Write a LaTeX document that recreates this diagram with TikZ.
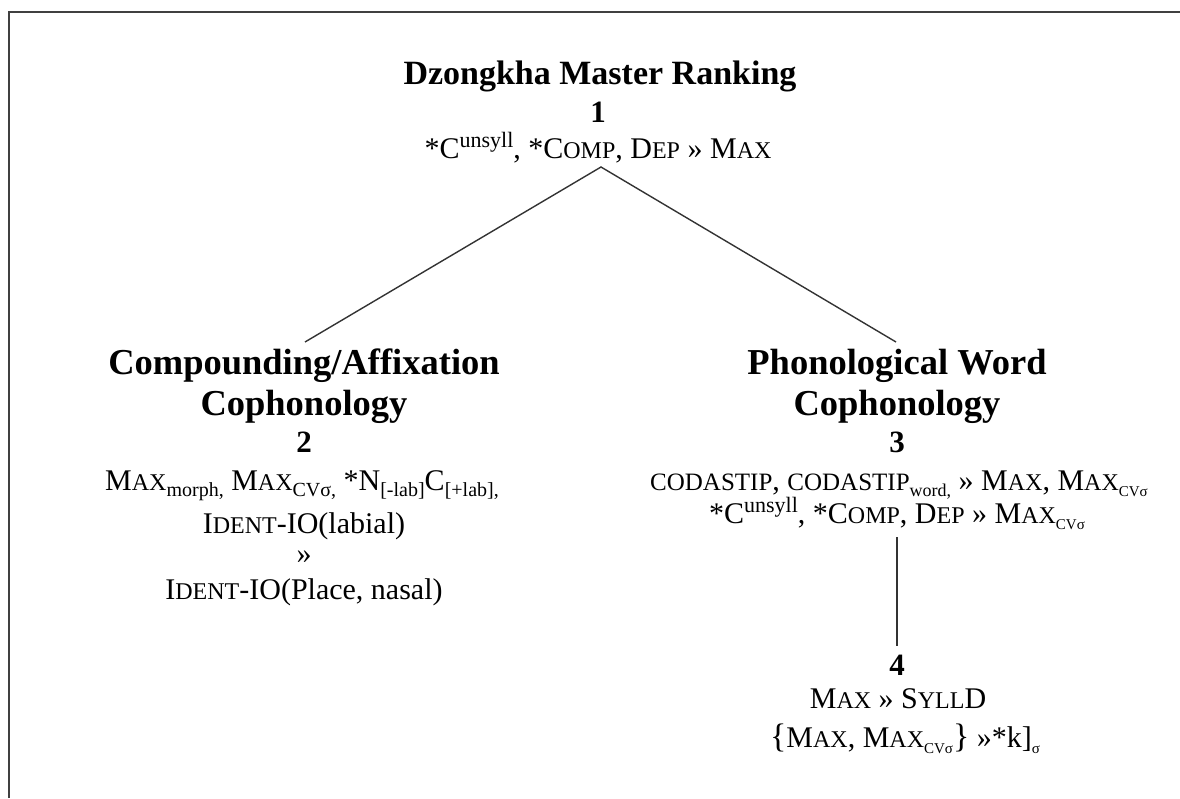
\documentclass[tikz,border=0pt]{standalone}
\usepackage{fontspec}
\setmainfont{Liberation Serif}
% size helpers
\newcommand\fsz[1]{\fontsize{#1}{#1}\selectfont}
\newcommand\smc[1]{{\fsz{24}#1}}
\newcommand\dn[2][20]{\raisebox{-6pt}{\fsz{#1}#2}}
\newcommand\up[2][22]{\raisebox{11pt}{\fsz{#1}#2}}
\tikzset{
  txt/.style={anchor=base, inner sep=0pt, font=\fsz{30}},
  head/.style={anchor=base, inner sep=0pt, font=\fsz{36.5}\bfseries},
  num/.style={anchor=base, inner sep=0pt, font=\fsz{31}\bfseries},
  link/.style={line width=1.4pt, draw=black!80},
  frame/.style={line width=2.4pt, draw=black!75}
}
\begin{document}
\begin{tikzpicture}[x=1pt,y=-1pt]
\useasboundingbox (0,0) rectangle (1180,798);
\draw[frame] (9,798) -- (9,12) -- (1180,12);

% top ranking
\node[head, font=\fsz{34}\bfseries] (title) at (600,84) {Dzongkha Master Ranking};
\node[num] (n1) at (598,122) {1};
\node[txt] (r1) at (598,158) {*C\up{unsyll}, *C\smc{OMP}, D\smc{EP} » M\smc{AX}};

% left branch
\node[head] (h2a) at (304,374) {Compounding/Affixation};
\node[head] (h2b) at (304,415) {Cophonology};
\node[num] (n2) at (304,452) {2};
\node[txt] (r2a) at (302,490) {M\smc{AX}\dn{morph,} M\smc{AX}\dn{CVσ,} *N\dn{[-lab]}C\dn{[+lab],}};
\node[txt] (r2b) at (304,533) {I\smc{DENT}-IO(labial)};
\node[txt] (r2c) at (304,563) {»};
\node[txt] (r2d) at (304,599) {I\smc{DENT}-IO(Place, nasal)};

% right branch
\node[head] (h3a) at (897,374) {Phonological Word};
\node[head] (h3b) at (897,415) {Cophonology};
\node[num] (n3) at (897,452) {3};
\node[txt] (r3a) at (899,490) {{\fsz{25}CODASTIP}, {\fsz{25}CODASTIP}\dn[18]{word,} » M\smc{AX}, M\smc{AX}\dn[15]{CVσ}};
\node[txt] (r3b) at (897,523) {*C\up{unsyll}, *C\smc{OMP}, D\smc{EP} » M\smc{AX}\dn[15]{CVσ}};

\node[num] (n4) at (897,675) {4};
\node[txt] (r4a) at (898,708) {M\smc{AX} » S\smc{YLL}D};
\node[txt] (r4b) at (905,747) {{\fsz{34}\{}M\smc{AX}, M\smc{AX}\dn[15]{CVσ}{\fsz{34}\}} »*k]\dn[15]{σ}};

% connectors
\coordinate (apex) at (601,167);
\coordinate (lend) at (305,342);
\coordinate (rend) at (896,342);
\coordinate (vtop) at (897,537);
\coordinate (vbot) at (897,646);
\draw[link] (lend) -- (apex) -- (rend);
\draw[link] (vtop) -- (vbot);
\end{tikzpicture}
\end{document}
